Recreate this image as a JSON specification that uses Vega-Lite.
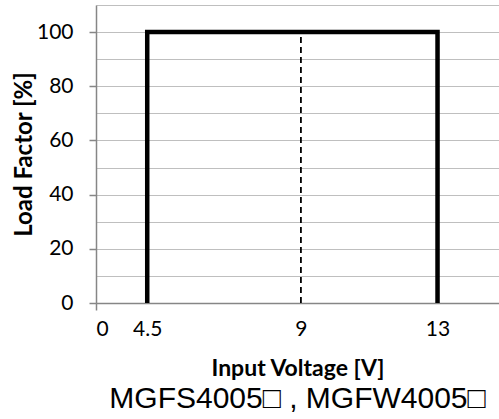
{
  "$schema": "https://vega.github.io/schema/vega-lite/v6.json",
  "width": 403,
  "height": 298,
  "autosize": {"type": "none"},
  "padding": {"left": 96, "top": 5, "right": 0, "bottom": 116},
  "background": "white",
  "title": {
    "text": "MGFS4005□ , MGFW4005□",
    "orient": "bottom",
    "anchor": "middle",
    "font": "Liberation Sans",
    "fontSize": 30,
    "fontWeight": "normal",
    "color": "#000000",
    "offset": 4
  },
  "config": {
    "view": {"stroke": null},
    "axis": {
      "labelFont": "Lato",
      "labelFontSize": 21,
      "labelColor": "#000000",
      "titleFont": "Lato",
      "titleFontSize": 23,
      "titleFontWeight": "bold",
      "titleColor": "#000000",
      "domainColor": "#868686",
      "domainWidth": 1.5,
      "tickColor": "#868686",
      "tickWidth": 1.5,
      "gridColor": "#bfbfbf",
      "gridWidth": 1.2,
      "gridOpacity": 1
    }
  },
  "resolve": {"scale": {"y": "independent"}, "axis": {"y": "independent"}},
  "layer": [
    {
      "data": {"values": [
        {"v": 4.5, "load": 0, "o": 1},
        {"v": 4.5, "load": 100, "o": 2},
        {"v": 13, "load": 100, "o": 3},
        {"v": 13, "load": 0, "o": 4}
      ]},
      "mark": {"type": "line", "color": "#000000", "strokeWidth": 4.5, "strokeJoin": "miter", "strokeCap": "butt"},
      "encoding": {
        "x": {
          "field": "v", "type": "quantitative",
          "scale": {"domain": [3, 14.8], "nice": false, "zero": false},
          "axis": {
            "title": "Input Voltage [V]",
            "values": [3, 4.5, 9, 13],
            "format": "~g",
            "labelExpr": "datum.value == 3 ? '0' : datum.label",
            "grid": false,
            "tickSize": 7,
            "tickOpacity": {"condition": {"test": "datum.value == 3", "value": 1}, "value": 0},
            "labelPadding": 8,
            "titlePadding": 18
          }
        },
        "y": {
          "field": "load", "type": "quantitative",
          "scale": {"domain": [0, 110], "nice": false, "zero": true},
          "axis": {
            "title": null,
            "orient": "left",
            "tickCount": 14,
            "grid": true,
            "labels": false,
            "ticks": false,
            "domain": false
          }
        },
        "order": {"field": "o", "type": "quantitative"}
      }
    },
    {
      "data": {"values": [
        {"v": 9, "load": 0},
        {"v": 9, "load": 100}
      ]},
      "mark": {"type": "line", "color": "#000000", "strokeWidth": 1.8, "strokeDash": [6, 4]},
      "encoding": {
        "x": {"field": "v", "type": "quantitative"},
        "y": {
          "field": "load", "type": "quantitative",
          "scale": {"domain": [0, 110], "nice": false, "zero": true},
          "axis": {
            "title": "Load Factor [%]",
            "titleFontSize": 24,
            "orient": "left",
            "values": [0, 20, 40, 60, 80, 100],
            "grid": false,
            "tickSize": 7,
            "labelPadding": 16,
            "titlePadding": 0
          }
        }
      }
    }
  ]
}
